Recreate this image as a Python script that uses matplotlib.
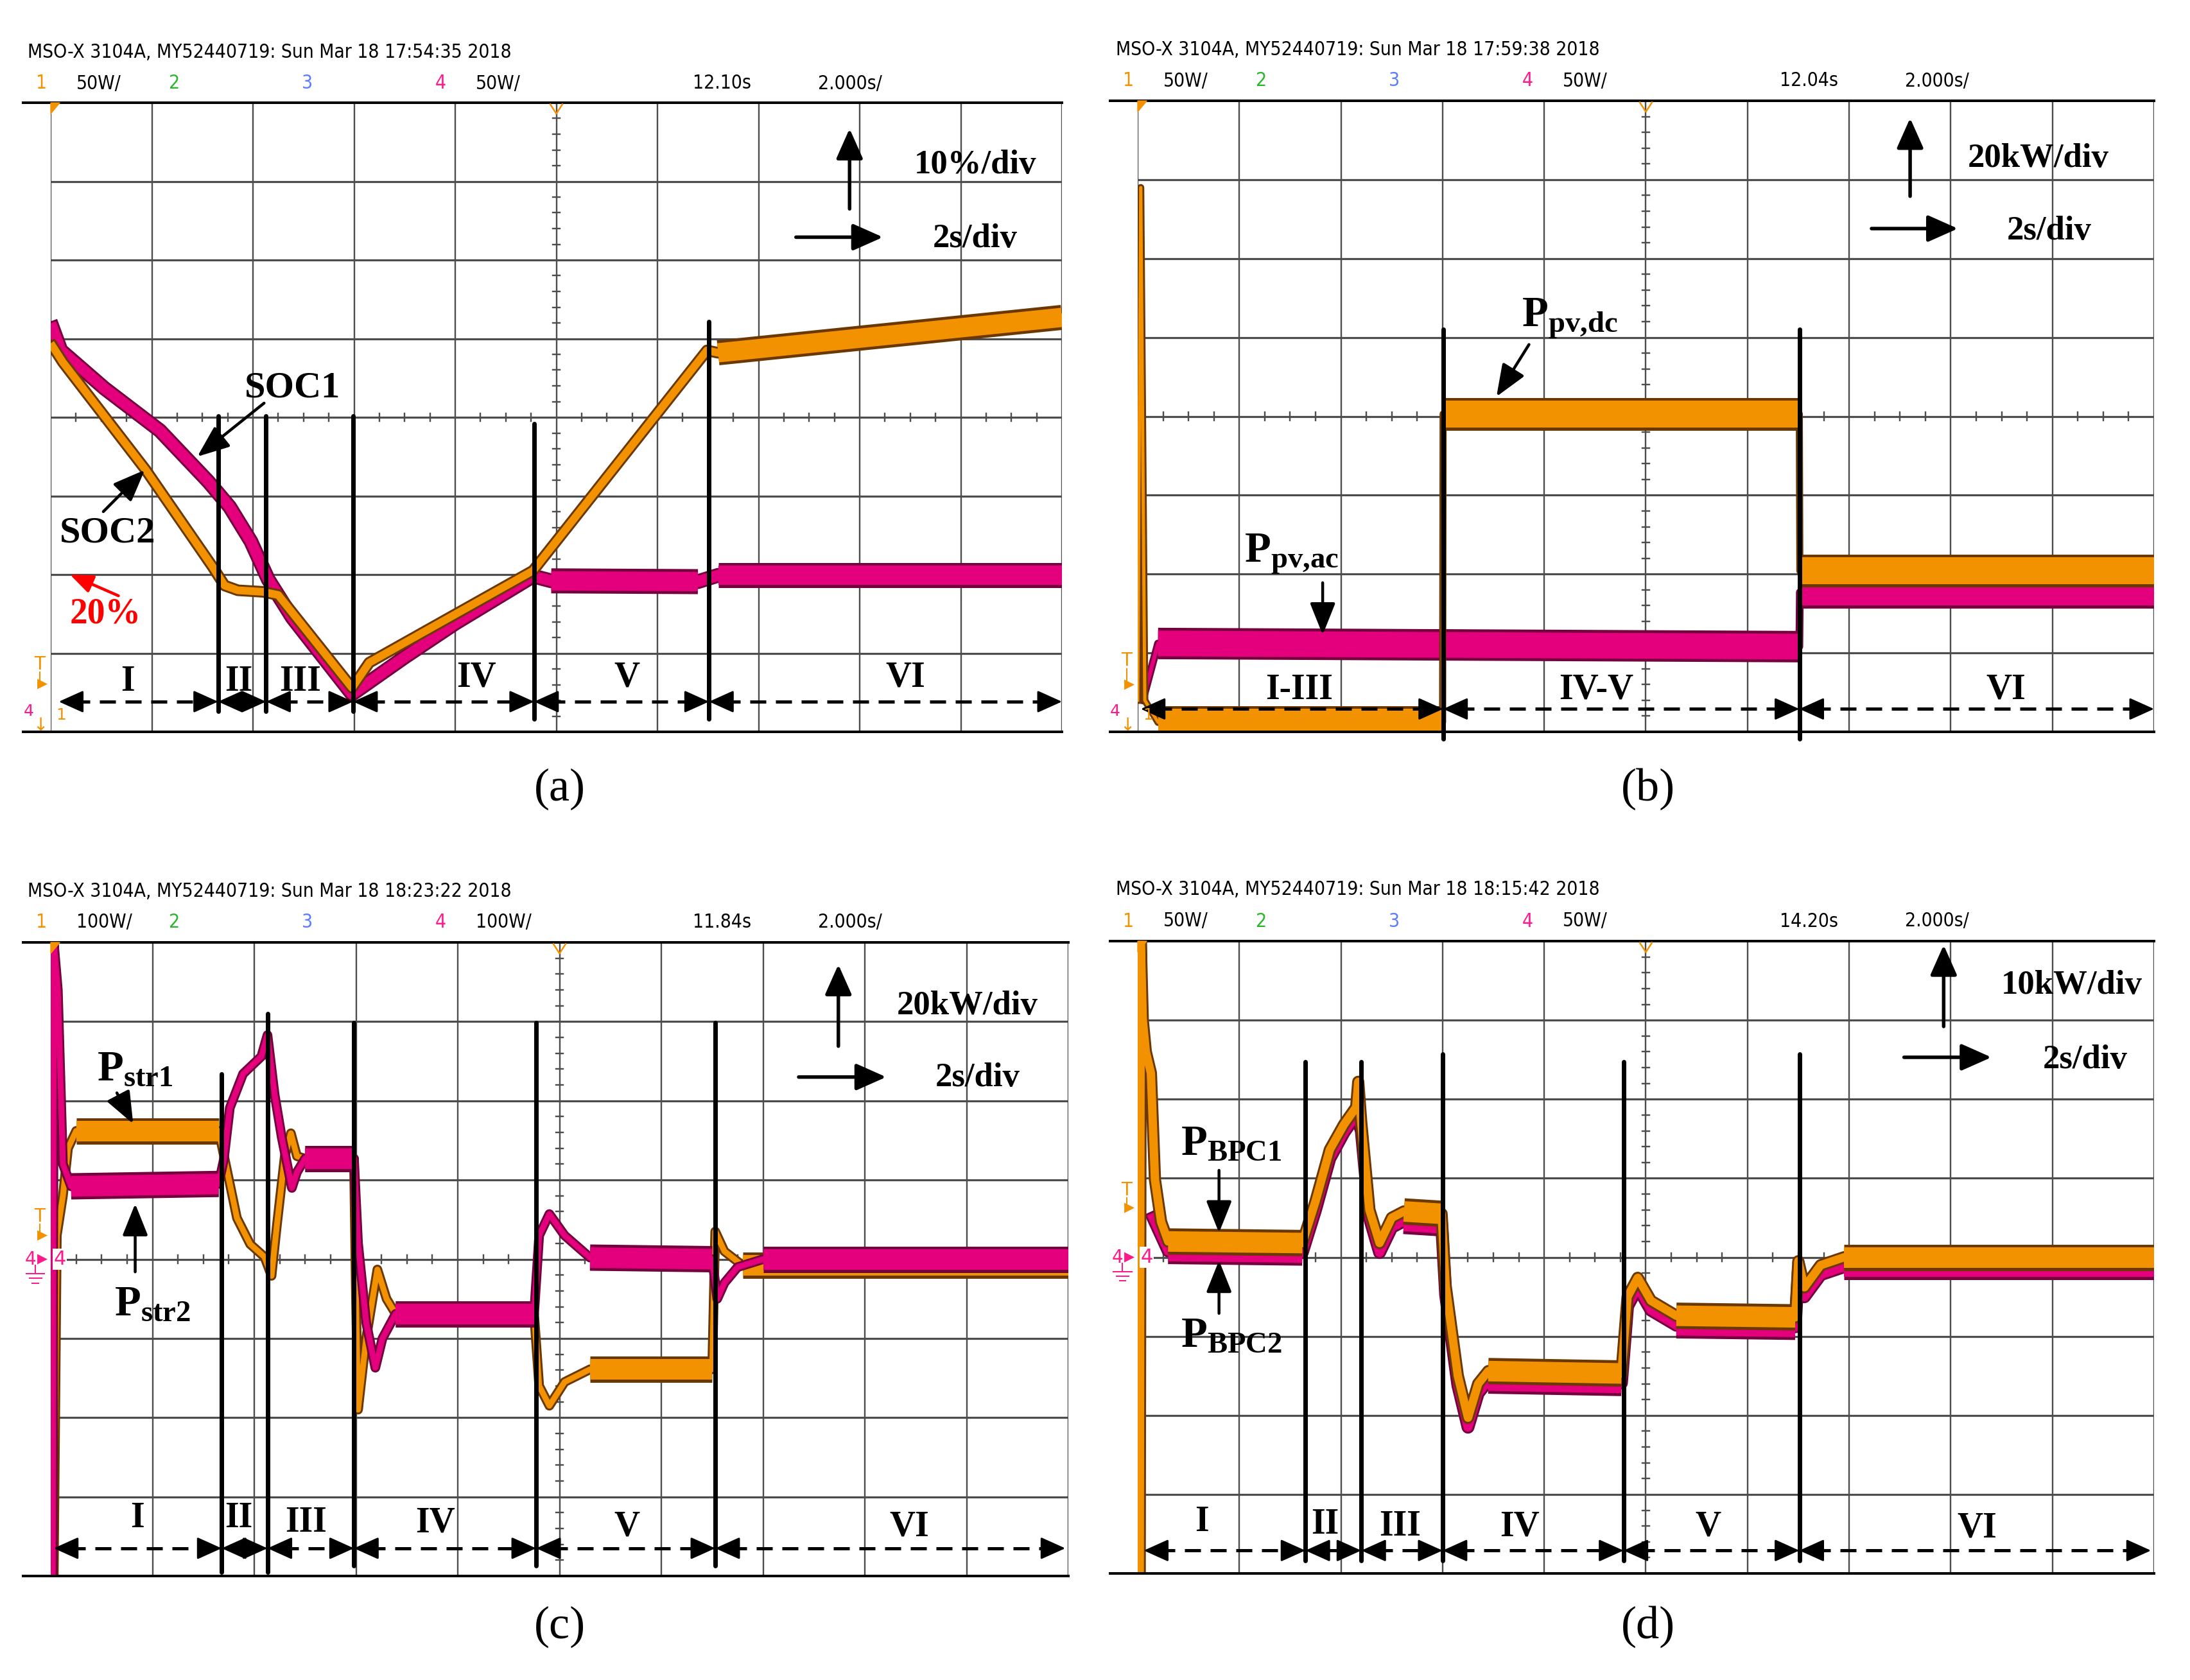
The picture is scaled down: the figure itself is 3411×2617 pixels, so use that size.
import matplotlib
matplotlib.use("Agg")
import matplotlib.pyplot as plt
import matplotlib.transforms as mtransforms
from matplotlib import font_manager

# ---- values read off the four scope captures ----
# time in s (2 s/div); SOC in %; power in kW

# (a) state of charge, 10 %/div, 0 % at the bottom line
t_soc1 = [0.04, 0.20, 1.06, 2.16, 3.12, 3.54, 3.96, 4.30, 4.78, 5.96, 7.00, 8.00, 9.54, 9.90, 12.80, 13.20, 20.0]
soc1 = [51.3, 48.5, 43.7, 38.3, 31.8, 28.6, 24.2, 19.4, 14.5, 4.8, 9.5, 13.8, 19.8, 19.2, 19.1, 19.9, 19.9]
t_soc2 = [0.04, 0.24, 1.88, 3.20, 3.44, 3.70, 4.20, 4.50, 5.96, 6.30, 9.54, 12.98, 13.20, 20.0]
soc2 = [49.0, 47.0, 33.3, 21.0, 18.6, 18.0, 17.8, 17.4, 5.6, 8.8, 20.5, 48.5, 48.2, 52.7]

# (b) PV power, 20 kW/div, 0 kW at the bottom line
t_pvdc = [0.0, 0.06, 0.14, 0.40, 6.00, 6.01, 13.02, 13.03, 20.0]
p_pvdc = [8.0, 138.0, 8.0, 2.4, 2.4, 80.6, 80.6, 40.8, 40.8]
t_pvac = [0.10, 0.20, 0.40, 13.02, 13.03, 20.0]
p_pvac = [8.0, 12.8, 22.4, 21.6, 35.4, 35.4]

# (c) string power, 20 kW/div, 0 kW at the centre line
t_str1 = [0.06, 0.12, 0.24, 0.34, 0.50, 3.30, 3.44, 3.66, 3.92, 4.20, 4.34, 4.44, 4.60, 4.72, 4.84, 5.00,
          5.96, 6.00, 6.04, 6.20, 6.42, 6.60, 6.78, 9.50, 9.60, 9.80, 10.10, 10.60, 13.00, 13.06, 13.24, 13.60, 20.0]
p_str1 = [-80.0, 6.0, 16.0, 28.0, 32.4, 32.4, 24.0, 10.4, 3.8, 0.6, -4.2, 8.0, 26.0, 31.8, 26.0, 25.4,
          25.4, -10.0, -38.0, -20.0, -2.6, -10.0, -13.8, -13.8, -32.0, -37.0, -31.0, -27.8, -27.8, 7.0, 2.0, -1.6, -1.6]
t_str2 = [0.04, 0.06, 0.14, 0.24, 0.40, 3.30, 3.40, 3.52, 3.78, 4.14, 4.26, 4.40, 4.54, 4.74, 4.84, 5.00,
          5.96, 6.04, 6.20, 6.38, 6.52, 6.78, 9.50, 9.60, 9.80, 10.10, 10.60, 13.00, 13.10, 13.24, 13.50, 14.00, 20.0]
p_str2 = [-80.0, 80.0, 68.0, 24.0, 18.4, 19.0, 25.0, 38.2, 46.8, 51.2, 56.6, 41.6, 30.8, 18.0, 22.0, 25.4,
          25.4, 4.0, -16.0, -27.4, -20.0, -13.8, -13.8, 6.0, 11.4, 6.0, 0.4, 0.0, -10.0, -6.0, -2.0, 0.0, 0.0]

# (d) BPC power, 10 kW/div, 0 kW at the centre line
t_bpc1 = [0.04, 0.06, 0.10, 0.16, 0.26, 0.34, 0.46, 0.60, 3.24, 3.50, 3.78, 4.06, 4.30, 4.34, 4.40, 4.56, 4.76,
          5.00, 5.24, 5.98, 6.06, 6.30, 6.50, 6.70, 6.90, 9.52, 9.64, 9.84, 10.10, 10.60, 12.94, 13.00, 13.12,
          13.44, 13.90, 20.0]
p_bpc1 = [-40.0, 40.0, 30.0, 26.0, 23.3, 9.8, 4.5, 2.0, 1.8, 7.1, 13.6, 16.8, 19.0, 22.2, 17.0, 6.0, 1.8,
          5.0, 5.8, 5.5, -3.6, -15.0, -20.3, -16.0, -14.4, -14.7, -5.0, -2.6, -5.5, -7.4, -7.6, -0.5, -3.8,
          -1.0, 0.0, 0.0]
t_bpc2 = [0.30, 0.60, 3.24, 3.50, 3.78, 4.06, 4.30, 4.40, 4.56, 4.76, 5.00, 5.24, 5.98, 6.06, 6.30, 6.50, 6.70,
          6.90, 9.52, 9.64, 9.84, 10.10, 10.60, 12.94, 13.00, 13.12, 13.44, 13.90, 20.0]
p_bpc2 = [5.0, 0.8, 0.6, 6.0, 12.5, 15.8, 18.0, 16.0, 5.0, 0.6, 3.8, 4.6, 4.3, -4.8, -16.2, -21.5, -17.2,
          -15.6, -15.9, -6.2, -3.8, -6.7, -8.6, -8.8, -1.7, -5.0, -2.2, -1.2, -1.2]

# operating-mode boundaries (s)
bounds_a = [3.31, 4.26, 5.98, 9.56, 13.02]
bounds_b = [6.01, 13.02]
bounds_c = [3.36, 4.26, 5.96, 9.54, 13.06]
bounds_d = [3.30, 4.40, 6.00, 9.56, 13.02]
modes6 = ['I', 'II', 'III', 'IV', 'V', 'VI']
modes3 = ['I-III', 'IV-V', 'VI']

W, H, DPI = 3411, 2617, 100
PT = 72 / DPI

ORANGE, ORANGE_EDGE = '#f39200', '#6a3800'
MAGENTA, MAGENTA_EDGE = '#e4007c', '#74003e'
GRID = '#4d4d4d'

names = {f.name for f in font_manager.fontManager.ttflist}
if 'Liberation Sans Narrow' in names:
    SCOPE = dict(family='Liberation Sans Narrow')
    SCOPE_FS = 25
else:
    SCOPE = dict(family='DejaVu Sans', stretch='condensed')
    SCOPE_FS = 21.5
SERIF = 'Liberation Serif'
plt.rcParams['mathtext.fontset'] = 'custom'
plt.rcParams['mathtext.rm'] = 'Liberation Serif:bold'
plt.rcParams['mathtext.bf'] = 'Liberation Serif:bold'
plt.rcParams['mathtext.it'] = 'Liberation Serif:bold'

fig = plt.figure(figsize=(W / DPI, H / DPI), dpi=DPI)


def panel(left, right, top, bottom, ylim):
    ax = fig.add_axes([left / W, 1 - bottom / H, (right - left) / W, (bottom - top) / H])
    ax.set_xlim(0, 20)
    ax.set_ylim(*ylim)
    ax.axis('off')
    div = mtransforms.Affine2D().scale(0.1, 0.125) + ax.transAxes
    tx = mtransforms.blended_transform_factory(ax.transData, div)
    for i in range(11):
        ax.plot([i, i], [0, 8], transform=div, color=GRID, lw=2.4 * PT, zorder=1)
    for j in range(1, 8):
        ax.plot([0, 10], [j, j], transform=div, color=GRID, lw=3.2 * PT, zorder=1)
    for k in range(1, 40):
        if k % 5:
            ax.plot([4.965, 5.035], [k * 0.2, k * 0.2], transform=div, color=GRID, lw=2.4 * PT, zorder=1)
        if k % 4:
            ax.plot([k * 0.25, k * 0.25], [3.95, 4.05], transform=div, color=GRID, lw=2.4 * PT, zorder=1)
    for yy in (0, 8):
        ax.plot([-0.27, 10], [yy, yy], transform=div, color='k', lw=4 * PT, clip_on=False, zorder=6)
    ax.fill([0, 0.09, 0], [8, 8, 7.86], transform=div, color=ORANGE, zorder=6, clip_on=False)
    ax.plot([4.94, 5.0, 5.06], [7.98, 7.86, 7.98], transform=div, color=ORANGE, lw=2.5 * PT, zorder=6)
    return ax, div, tx


def header(x, y, stamp):
    fig.text(x / W, 1 - y / H, 'MSO-X 3104A, MY52440719: Sun Mar 18 ' + stamp + ' 2018',
             fontsize=SCOPE_FS, va='center', ha='left', **SCOPE)


def channels(gl, y, vdiv, tpos):
    items = [(-23, '1', ORANGE), (40, vdiv, 'k'), (184, '2', '#2bb52b'), (391, '3', '#5b7cff'),
             (599, '4', '#ff1a8c'), (662, vdiv, 'k'), (1000, tpos, 'k'), (1195, '2.000s/', 'k')]
    for dx, s, c in items:
        fig.text((gl + dx) / W, 1 - y / H, s, color=c, fontsize=SCOPE_FS, va='center', ha='left', **SCOPE)


def trace(ax, t, v, per_div, color, edge, lw_px, band_px, z):
    ax.plot(t, v, color=edge, lw=(lw_px + 6) * PT, solid_joinstyle='round', zorder=z)
    ax.plot(t, v, color=color, lw=lw_px * PT, solid_joinstyle='round', zorder=z + 0.2)
    for i in range(len(t) - 1):
        dx = (t[i + 1] - t[i]) / 2.0
        dy = (v[i + 1] - v[i]) / per_div
        if dx > 0.25 and abs(dy / dx) < 0.15:
            st, sv = [t[i], t[i + 1]], [v[i], v[i + 1]]
            ax.plot(st, sv, color=edge, lw=(band_px + 9) * PT, solid_capstyle='butt', zorder=z + 0.1)
            ax.plot(st, sv, color=color, lw=band_px * PT, solid_capstyle='butt', zorder=z + 0.3)


def arrow(ax, trans, p0, p1, color='k', lw=5.5, ms=40, hl=0.72, hw=0.32):
    ax.annotate('', xy=p1, xytext=p0, xycoords=trans, textcoords=trans, annotation_clip=False,
                arrowprops=dict(arrowstyle='-|>,head_length=%g,head_width=%g' % (hl, hw),
                                color=color, lw=lw * PT, mutation_scale=ms, shrinkA=0, shrinkB=0),
                zorder=9)


def mode_lines(ax, tx, xs, tops, bottoms):
    for x, y1, y0 in zip(xs, tops, bottoms):
        ax.plot([x, x], [y0, y1], transform=tx, color='k', lw=7 * PT, zorder=7,
                clip_on=False, solid_capstyle='round')


def mode_bar(ax, tx, edges, y, labels, lx, ly):
    for x0, x1 in zip(edges[:-1], edges[1:]):
        ax.plot([x0 + 0.3, x1 - 0.3], [y, y], transform=tx, color='k', lw=5 * PT,
                ls=(0, (5, 3)), zorder=8, clip_on=False)
        arrow(ax, tx, (x0 + 0.44, y), (x0, y), lw=3, ms=30, hl=0.8, hw=0.36)
        arrow(ax, tx, (x1 - 0.44, y), (x1, y), lw=3, ms=30, hl=0.8, hw=0.36)
    for s, x, yy in zip(labels, lx, ly):
        ax.text(x, yy, s, transform=tx, ha='center', va='center', fontsize=40,
                fontweight='bold', family=SERIF, zorder=9)


def scale_note(ax, div, up_x, up_y, rt_y, rt_x, txt, txt_pos, s_pos):
    arrow(ax, div, (up_x, up_y[0]), (up_x, up_y[1]))
    arrow(ax, div, (rt_x[0], rt_y), (rt_x[1], rt_y))
    ax.text(*txt_pos, txt, transform=div, ha='center', va='center', fontsize=38,
            fontweight='bold', family=SERIF, zorder=9)
    ax.text(*s_pos, '2s/div', transform=div, ha='center', va='center', fontsize=38,
            fontweight='bold', family=SERIF, zorder=9)


def label(ax, div, s, pos, a0, a1, color='k', fs=42, ms=34):
    ax.text(*pos, s, transform=div, ha='center', va='center', fontsize=fs, color=color,
            fontweight='bold', family=SERIF, zorder=9)
    arrow(ax, div, a0, a1, color=color, lw=4.5, ms=ms, hl=0.9, hw=0.36)


def marks(ax, div, t_y, tri_y, g_y, center=False):
    kw = dict(transform=div, ha='center', va='center', clip_on=False, family='DejaVu Sans')
    ax.text(-0.11, t_y, 'T', color=ORANGE, fontsize=20, zorder=9, **kw)
    ax.plot([-0.11, -0.11], [t_y - 0.1, tri_y], transform=div, color=ORANGE, lw=2 * PT, clip_on=False)
    ax.text(-0.08, tri_y, '\u25b6', color=ORANGE, fontsize=15, zorder=9, **kw)
    if center:
        ax.text(-0.2, g_y, '4', color='#ff1a8c', fontsize=20, zorder=9, **kw)
        ax.text(-0.08, g_y, '\u25b6', color='#ff1a8c', fontsize=15, zorder=9, **kw)
        ax.plot([-0.15, -0.15], [g_y - 0.08, g_y - 0.18], transform=div, color='#ff1a8c', lw=2 * PT, clip_on=False)
        for w, yy in ((0.09, -0.18), (0.06, -0.24), (0.03, -0.3)):
            ax.plot([-0.15 - w, -0.15 + w], [g_y + yy, g_y + yy], transform=div, color='#ff1a8c',
                    lw=2 * PT, clip_on=False)
        ax.text(0.09, g_y, '4', color='#ff1a8c', fontsize=22, zorder=10,
                bbox=dict(fc='white', ec='none', pad=1), **kw)
    else:
        ax.text(-0.22, g_y + 0.18, '4', color='#ff1a8c', fontsize=18, zorder=9, **kw)
        ax.text(0.1, g_y + 0.13, '1', color=ORANGE, fontsize=18, zorder=9, **kw)
        ax.text(-0.1, g_y, '\u2193', color=ORANGE, fontsize=20, zorder=9, **kw)


# ---------------- (a) ----------------
ax, div, tx = panel(79, 1654, 160, 1140, (0, 80))
header(43, 81, '17:54:35')
channels(79, 130, '50W/', '12.10s')
trace(ax, t_soc1, soc1, 10, MAGENTA, MAGENTA_EDGE, 17, 30, 3)
trace(ax, t_soc2, soc2, 10, ORANGE, ORANGE_EDGE, 12, 30, 4)
mode_lines(ax, tx, bounds_a, [4.02, 4.02, 4.02, 3.92, 5.22], [0.26, 0.26, 0.26, 0.16, 0.16])
mode_bar(ax, tx, [0.16] + bounds_a + [20.0], 0.384, modes6,
         [1.52, 3.72, 4.94, 8.42, 11.40, 16.90], [0.64, 0.64, 0.64, 0.69, 0.69, 0.69])
scale_note(ax, div, 7.90, (6.65, 7.67), 6.29, (7.37, 8.23), '10%/div', (9.14, 7.21), (9.14, 6.27))
label(ax, div, 'SOC1', (2.39, 4.37), (2.11, 4.18), (1.45, 3.50))
label(ax, div, 'SOC2', (0.56, 2.53), (0.52, 2.80), (0.93, 3.33))
label(ax, div, '20%', (0.54, 1.50), (0.67, 1.73), (0.19, 2.00), color='#ff0000', fs=40, ms=24)
marks(ax, div, 0.86, 0.61, 0.08)

# ---------------- (b) ----------------
ax, div, tx = panel(1772, 3355, 157, 1140, (0, 160))
header(1738, 78, '17:59:38')
channels(1772, 126, '50W/', '12.04s')
trace(ax, t_pvac, p_pvac, 20, MAGENTA, MAGENTA_EDGE, 6, 40, 3)
trace(ax, t_pvdc, p_pvdc, 20, ORANGE, ORANGE_EDGE, 5, 42, 4)
mode_lines(ax, tx, bounds_b, [5.10, 5.10], [-0.09, -0.09])
mode_bar(ax, tx, [0.06] + bounds_b + [20.0], 0.29, modes3, [3.18, 9.02, 17.08], [0.53, 0.53, 0.53])
scale_note(ax, div, 7.60, (6.79, 7.78), 6.38, (7.22, 8.07), '20kW/div', (8.86, 7.27), (8.97, 6.35))
label(ax, div, r'$\mathbf{P}_{\mathbf{pv{,}dc}}$', (4.25, 5.24), (3.85, 4.91), (3.53, 4.25), fs=48)
label(ax, div, r'$\mathbf{P}_{\mathbf{pv{,}ac}}$', (1.51, 2.25), (1.82, 1.89), (1.82, 1.23), fs=48)
marks(ax, div, 0.90, 0.60, 0.08)

# ---------------- (c) ----------------
ax, div, tx = panel(79, 1664, 1468, 2455, (-80, 80))
header(43, 1388, '18:23:22')
channels(79, 1437, '100W/', '11.84s')
trace(ax, t_str1, p_str1, 20, ORANGE, ORANGE_EDGE, 9, 32, 3)
trace(ax, t_str2, p_str2, 20, MAGENTA, MAGENTA_EDGE, 9, 32, 4)
mode_lines(ax, tx, bounds_c, [6.34, 7.10, 6.99, 6.99, 6.99], [0.05, 0.05, 0.13, 0.13, 0.13])
mode_bar(ax, tx, [0.06] + bounds_c + [19.94], 0.35, modes6,
         [1.70, 3.70, 5.02, 7.56, 11.32, 16.88], [0.73, 0.73, 0.67, 0.67, 0.62, 0.62])
scale_note(ax, div, 7.74, (6.69, 7.72), 6.30, (7.35, 8.21), '20kW/div', (9.01, 7.20), (9.11, 6.29))
label(ax, div, r'$\mathbf{P}_{\mathbf{str1}}$', (0.83, 6.39), (0.65, 6.10), (0.81, 5.71), fs=48)
label(ax, div, r'$\mathbf{P}_{\mathbf{str2}}$', (1.00, 3.43), (0.83, 3.84), (0.83, 4.70), fs=48)
marks(ax, div, 4.54, 4.30, 4.0, center=True)

# ---------------- (d) ----------------
ax, div, tx = panel(1772, 3355, 1466, 2451, (-40, 40))
header(1738, 1386, '18:15:42')
channels(1772, 1435, '50W/', '14.20s')
trace(ax, t_bpc2, p_bpc2, 10, MAGENTA, MAGENTA_EDGE, 14, 32, 3)
trace(ax, t_bpc1, p_bpc1, 10, ORANGE, ORANGE_EDGE, 13, 32, 4)
mode_lines(ax, tx, bounds_d, [6.47, 6.47, 6.57, 6.47, 6.57], [0.16] * 5)
mode_bar(ax, tx, [0.12] + bounds_d + [19.94], 0.29, modes6,
         [1.26, 3.68, 5.16, 7.52, 11.22, 16.52], [0.65, 0.62, 0.59, 0.59, 0.59, 0.57])
scale_note(ax, div, 7.93, (6.92, 7.95), 6.53, (7.54, 8.40), '10kW/div', (9.19, 7.44), (9.32, 6.50))
label(ax, div, r'$\mathbf{P}_{\mathbf{BPC1}}$', (0.92, 5.43), (0.80, 5.10), (0.80, 4.31), fs=48)
label(ax, div, r'$\mathbf{P}_{\mathbf{BPC2}}$', (0.92, 3.00), (0.80, 3.29), (0.80, 3.96), fs=48)
marks(ax, div, 4.85, 4.63, 4.0, center=True)

# panel captions
for s, x, y in (('(a)', 872, 1229), ('(b)', 2567, 1229), ('(c)', 872, 2534), ('(d)', 2567, 2534)):
    fig.text(x / W, 1 - y / H, s, fontsize=52, family=SERIF, ha='center', va='center')

fig.savefig('out.png', dpi=DPI, facecolor='white')
